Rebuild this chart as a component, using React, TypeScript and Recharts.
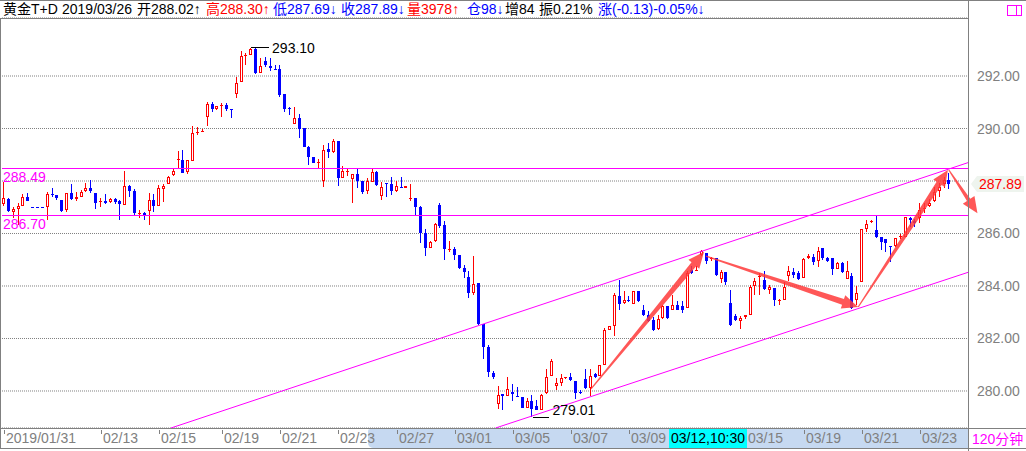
import React from 'react';
import { ComposedChart, Bar, XAxis, YAxis, CartesianGrid, ReferenceLine, ReferenceDot } from 'recharts';

// 120-minute bars, Au(T+D), oldest first
const openArr = [
  287.12, 287.32, 286.81, 286.92, 287.06, 287.38, 287.0, 287.0, 287.0, 287.02,
  287.52, 287.47, 287.28, 286.9, 287.55, 287.3, 287.4, 287.62, 287.72, 287.55,
  287.19, 287.25, 287.19, 287.32, 287.25, 287.09, 287.81, 287.62, 286.76, 286.77,
  286.87, 287.28, 287.06, 287.7, 287.87, 288.23, 288.82, 288.8, 288.33, 288.77,
  289.85, 289.9, 290.44, 290.95, 290.73, 290.88, 290.89, 290.73, 291.3, 291.78,
  292.77, 292.81, 293.03, 292.13, 292.56, 292.38, 292.26, 292.26, 291.31, 290.8,
  290.19, 290.41, 290.03, 289.28, 288.92, 288.7, 288.01, 289.22, 289.09, 289.52,
  288.13, 288.35, 288.07, 288.27, 288.0, 287.62, 287.97, 288.35, 287.44, 287.91,
  287.87, 287.62, 287.79, 287.75, 287.33, 287.34, 287.02, 286.01, 285.44, 285.72,
  287.09, 286.33, 285.38, 285.41, 285.19, 284.68, 284.34, 283.73, 284.11, 282.55,
  281.66, 280.69, 279.51, 279.9, 279.82, 279.97, 279.82, 279.79, 279.35, 279.63,
  279.42, 279.29, 279.92, 280.59, 280.19, 280.31, 280.48, 280.52, 280.37, 279.96,
  280.46, 280.12, 280.63, 280.59, 281.0, 282.34, 282.46, 283.63, 283.35, 283.48,
  283.32, 283.8, 283.07, 282.9, 282.71, 282.36, 282.78, 283.22, 283.1, 283.29,
  283.22, 283.16, 284.62, 284.6, 285.19, 285.25, 285.03, 285.06, 284.27, 284.55,
  283.35, 282.84, 282.65, 282.81, 282.9, 284.01, 284.34, 284.24, 283.86, 283.94,
  283.46, 283.48, 284.37, 284.53, 284.49, 284.3, 285.06, 285.12, 284.97, 285.46,
  285.06, 285.06, 284.66, 284.87, 284.28, 284.37, 283.48, 284.17, 286.17, 286.46,
  286.14, 285.86, 285.78, 285.53, 285.53, 285.86, 285.88, 286.58, 286.46, 286.58,
  286.94, 287.05, 287.25, 287.63, 287.89, 288.02,
];
const highArr = [
  287.97, 287.35, 287.02, 287.16, 287.51, 287.55, 287.0, 287.0, 287.0, 287.59,
  287.75, 287.47, 287.28, 287.55, 287.87, 287.59, 287.66, 287.91, 288.04, 287.55,
  287.37, 287.51, 287.37, 287.37, 287.28, 288.39, 287.85, 287.7, 286.9, 286.81,
  287.53, 287.49, 287.85, 287.87, 288.19, 288.51, 289.14, 289.18, 288.8, 290.1,
  290.06, 290.0, 291.02, 291.02, 290.87, 290.98, 290.98, 290.73, 291.97, 292.94,
  292.86, 293.07, 293.1, 292.67, 292.73, 292.67, 292.41, 292.41, 291.31, 290.83,
  290.83, 290.57, 290.03, 289.34, 288.92, 288.84, 289.37, 289.43, 289.6, 289.52,
  288.57, 288.49, 288.25, 288.46, 288.0, 288.13, 288.48, 288.38, 287.97, 287.91,
  288.16, 288.0, 288.14, 287.82, 287.89, 287.34, 287.06, 286.17, 285.73, 286.39,
  287.15, 286.48, 285.72, 285.5, 285.19, 284.81, 284.58, 285.16, 284.11, 282.55,
  281.76, 280.78, 280.19, 279.9, 280.55, 280.25, 280.17, 279.79, 279.72, 279.86,
  279.66, 279.9, 280.82, 281.22, 280.5, 280.63, 280.53, 280.7, 280.37, 280.03,
  280.82, 280.82, 280.7, 281.0, 282.4, 282.49, 283.73, 284.24, 283.8, 283.6,
  283.82, 283.82, 283.29, 283.03, 282.82, 282.9, 283.29, 283.22, 283.67, 283.41,
  283.41, 284.56, 284.75, 284.77, 285.38, 285.27, 285.12, 285.06, 284.62, 284.55,
  283.86, 282.94, 282.87, 282.91, 284.02, 284.32, 284.49, 284.56, 284.05, 283.94,
  283.51, 284.15, 284.77, 284.7, 284.58, 285.08, 285.21, 285.21, 285.48, 285.46,
  285.12, 285.08, 284.93, 284.91, 284.96, 284.49, 284.0, 286.17, 286.52, 286.52,
  286.71, 285.86, 285.78, 285.53, 285.82, 285.98, 286.64, 286.62, 286.54, 287.15,
  287.15, 287.3, 287.78, 287.94, 288.14, 288.3,
];
const lowArr = [
  287.03, 286.82, 286.6, 286.33, 287.06, 287.22, 287.0, 287.0, 287.0, 286.52,
  287.4, 287.28, 286.81, 286.83, 287.28, 287.25, 287.38, 287.59, 287.55, 286.92,
  287.02, 287.13, 287.15, 287.13, 286.52, 287.09, 287.4, 286.7, 286.58, 286.52,
  286.33, 286.83, 287.06, 287.21, 287.87, 288.2, 288.51, 288.29, 288.25, 288.77,
  289.75, 289.87, 290.1, 290.64, 290.71, 290.44, 290.67, 290.41, 291.17, 291.78,
  292.41, 292.81, 292.06, 292.1, 292.35, 292.18, 292.22, 291.21, 290.61, 290.51,
  290.19, 289.65, 289.29, 288.61, 288.67, 288.48, 287.78, 288.86, 289.05, 287.82,
  288.1, 288.2, 287.17, 287.72, 287.49, 287.49, 287.95, 287.81, 287.28, 287.4,
  287.47, 287.59, 287.72, 287.74, 287.25, 286.71, 285.65, 285.16, 285.44, 285.69,
  286.22, 285.0, 285.31, 285.0, 284.65, 284.32, 283.56, 283.67, 282.53, 281.2,
  280.52, 280.44, 279.3, 279.28, 279.8, 279.6, 279.78, 279.35, 279.35, 279.01,
  279.27, 279.29, 279.9, 280.56, 280.03, 280.18, 280.47, 280.37, 279.69, 279.87,
  280.08, 279.8, 280.5, 280.56, 281.0, 282.31, 282.11, 283.1, 283.32, 283.4,
  283.3, 283.38, 282.87, 282.61, 282.27, 282.31, 282.74, 282.74, 283.08, 283.08,
  282.97, 283.16, 284.47, 284.56, 285.15, 284.84, 284.94, 284.39, 284.13, 284.04,
  282.46, 282.65, 282.36, 282.74, 282.9, 283.67, 283.64, 283.86, 283.69, 283.22,
  283.29, 283.48, 284.2, 284.32, 284.24, 284.3, 285.03, 284.81, 284.71, 285.0,
  284.9, 284.43, 284.66, 284.49, 284.25, 283.13, 283.29, 284.15, 286.05, 286.4,
  285.82, 285.38, 285.31, 284.9, 285.48, 285.78, 285.86, 286.26, 286.26, 286.39,
  286.77, 287.0, 287.21, 287.4, 287.72, 287.69,
];
const closeArr = [
  287.34, 286.84, 286.92, 287.06, 287.38, 287.25, 287.0, 287.0, 287.0, 287.51,
  287.49, 287.37, 286.87, 287.53, 287.3, 287.4, 287.59, 287.72, 287.62, 287.15,
  287.24, 287.15, 287.3, 287.19, 287.13, 287.81, 287.62, 286.79, 286.78, 286.7,
  287.28, 287.06, 287.72, 287.82, 288.16, 288.38, 288.84, 288.29, 288.8, 289.81,
  289.88, 289.92, 290.95, 290.73, 290.85, 290.9, 290.73, 290.72, 291.75, 292.75,
  292.79, 293.01, 292.13, 292.37, 292.41, 292.31, 292.23, 291.27, 290.76, 290.76,
  290.41, 290.0, 289.3, 288.92, 288.7, 288.72, 289.18, 289.11, 289.52, 288.13,
  288.38, 288.37, 288.25, 288.0, 287.59, 288.0, 288.35, 287.85, 287.78, 287.89,
  287.63, 287.81, 287.76, 287.81, 287.35, 287.02, 286.01, 285.44, 285.67, 286.35,
  286.3, 285.41, 285.4, 285.19, 284.7, 284.55, 283.73, 284.07, 282.55, 281.66,
  280.71, 280.52, 279.86, 279.82, 280.09, 279.87, 279.79, 279.35, 279.63, 279.33,
  279.29, 279.86, 280.55, 281.16, 280.31, 280.5, 280.52, 280.4, 279.94, 279.93,
  280.12, 280.59, 280.54, 281.0, 282.33, 282.46, 283.67, 283.31, 283.48, 283.45,
  283.8, 283.42, 282.9, 282.65, 282.31, 282.74, 283.22, 282.78, 283.29, 283.1,
  283.1, 284.49, 284.49, 284.62, 285.34, 284.97, 285.06, 284.43, 284.55, 284.17,
  282.52, 282.69, 282.78, 282.9, 283.98, 284.2, 284.37, 283.9, 283.98, 283.48,
  283.48, 283.98, 284.58, 284.4, 284.27, 285.03, 285.15, 284.91, 285.35, 285.06,
  284.95, 284.66, 284.87, 284.55, 284.56, 283.16, 283.73, 286.17, 286.35, 286.48,
  285.88, 285.69, 285.63, 285.48, 285.82, 285.91, 286.62, 286.52, 286.39, 286.9,
  286.96, 287.18, 287.59, 287.78, 288.02, 287.89,
];

const tickIdx = [0, 20, 32, 45, 57, 69, 81, 93, 105, 117, 129, 153, 165, 177, 189];
const tickText = ['2019/01/31', '02/13', '02/15', '02/19', '02/21', '02/23', '02/27', '03/01',
  '03/05', '03/07', '03/09', '03/15', '03/19', '03/21', '03/23'];
const yTicks = [280, 282, 284, 286, 288, 290, 292];

// horizontal support / resistance levels
const levelLines = [288.49, 286.7];
// channel lines: [fromIndex, fromPrice, toIndex, toPrice]
const channelLines = [
  [34.45, 278.59, 198.85, 288.7],
  [101.4, 278.59, 198.85, 284.52],
];
// hand-drawn red arrows
const arrowLines = [
  [121.1, 280.08, 144.4, 285.3],
  [144.8, 285.14, 176.2, 283.2],
  [176.2, 283.2, 194.7, 288.42],
  [194.9, 288.42, 200.8, 286.77],
];

const volume = 3978;
const openInt = 98;
const oiChange = 84;

const data = openArr.map((o, i) => ({ i, o, h: highArr[i], l: lowArr[i], c: closeArr[i] }));
const last = data.length - 1;
const prevClose = closeArr[last - 1];
const change = closeArr[last] - prevClose;

let hiIdx = 0;
let loIdx = 0;
data.forEach((d, i) => {
  if (d.h > data[hiIdx].h) hiIdx = i;
  if (d.l < data[loIdx].l) loIdx = i;
});

const FONT = '"Liberation Sans", "Noto Sans CJK SC", Arial, sans-serif';
const RED = '#ff0000';
const BLUE = '#0000ff';
const GRAY = '#808080';
const MAGENTA = '#ff00ff';

function Candle(props: any) {
  const { x, y, width, height, payload } = props;
  if (x == null || y == null || !payload) return null;
  const { o, h, l, c } = payload;
  const top = Math.min(y, y + height);
  const bottom = Math.max(y, y + height);
  const span = h - l;
  const toY = (v: number) => (span > 0 ? top + ((h - v) / span) * (bottom - top) : top);
  const cx = Math.floor(x + width / 2);
  const yH = Math.round(top);
  const yL = Math.round(bottom);
  const yO = Math.round(toY(o));
  const yC = Math.round(toY(c));
  const up = c > o;
  const col = up ? RED : BLUE;
  const bt = Math.min(yO, yC);
  const bb = Math.max(yO, yC);
  return (
    <g shapeRendering="crispEdges">
      <rect x={cx} y={yH} width={1} height={Math.max(1, yL - yH)} fill={col} />
      {bb - bt <= 1 ? (
        <rect x={cx - 1} y={bt} width={3} height={1} fill={col} />
      ) : up ? (
        <rect x={cx - 0.5} y={bt + 0.5} width={2} height={bb - bt - 1} fill="#fff" stroke={col} strokeWidth={1} />
      ) : (
        <rect x={cx - 1} y={bt} width={3} height={bb - bt} fill={col} />
      )}
    </g>
  );
}

const XTick = (props: any) => {
  const { x, y, payload } = props;
  const k = tickIdx.indexOf(payload.value);
  if (k < 0) return null;
  const px = Math.round(x);
  return (
    <g>
      <rect x={px} y={y + 2} width={1} height={4} fill={GRAY} />
      <text x={px + 2} y={y + 15} fontSize={14} fontFamily={FONT} fill={GRAY}>
        {tickText[k]}
      </text>
    </g>
  );
};

const YTick = (props: any) => {
  const { x, y, payload } = props;
  // the last-price tag sits on top of the nearest level
  if (Math.abs(payload.value - closeArr[last]) < 0.6) return <g />;
  return (
    <text x={x + 9} y={y + 5} fontSize={14} fontFamily={FONT} fill={GRAY}>
      {Number(payload.value).toFixed(2)}
    </text>
  );
};

const arrowShape = (p: any) => {
  const { x1, y1, x2, y2 } = p;
  const dx = x2 - x1;
  const dy = y2 - y1;
  const len = Math.hypot(dx, dy) || 1;
  const ux = dx / len;
  const uy = dy / len;
  const nx = -uy;
  const ny = ux;
  const headLen = Math.min(16, len * 0.4);
  const headW = 7;
  const neck = len > 80 ? 3 : 2;
  const tail = 0.6;
  const bx = x2 - ux * headLen;
  const by = y2 - uy * headLen;
  const pts = [
    [x1 + nx * tail, y1 + ny * tail],
    [bx + nx * neck, by + ny * neck],
    [bx + nx * headW, by + ny * headW],
    [x2, y2],
    [bx - nx * headW, by - ny * headW],
    [bx - nx * neck, by - ny * neck],
    [x1 - nx * tail, y1 - ny * tail],
  ];
  return <polygon points={pts.map((q) => q.join(',')).join(' ')} fill="#ff3a3a" fillOpacity={0.85} />;
};

const levelLabel = (v: number) => (p: any) => {
  const vb = p.viewBox || {};
  return (
    <text x={vb.x + 1} y={vb.y + 14} fontSize={14} fontFamily={FONT} fill={MAGENTA}>
      {v.toFixed(2)}
    </text>
  );
};

const priceTag = (p: any) => {
  const vb = p.viewBox || {};
  const x0 = vb.x + vb.width + 3;
  const yc = vb.y;
  const pts = [
    [x0, yc],
    [x0 + 6, yc - 8],
    [x0 + 53, yc - 8],
    [x0 + 53, yc + 8],
    [x0 + 6, yc + 8],
  ];
  return (
    <g>
      <polygon points={pts.map((q) => q.join(',')).join(' ')} fill="#eef4ee" />
      <text x={x0 + 8} y={yc + 5} fontSize={14} fontFamily={FONT} fill={RED}>
        {closeArr[last].toFixed(2)}
      </text>
    </g>
  );
};

const highMark = (p: any) => {
  const { cx, cy } = p;
  if (cx == null) return <g />;
  return (
    <g>
      <rect x={Math.round(cx) - 5} y={Math.round(cy)} width={18} height={1} fill="#000" />
      <text x={cx + 16} y={cy + 6} fontSize={14} fontFamily={FONT} fill="#000">
        {data[hiIdx].h.toFixed(2)}
      </text>
    </g>
  );
};

const lowMark = (p: any) => {
  const { cx, cy } = p;
  if (cx == null) return <g />;
  return (
    <g>
      <rect x={Math.round(cx) + 1} y={Math.round(cy)} width={16} height={1} fill="#000" />
      <text x={cx + 20} y={cy - 2} fontSize={14} fontFamily={FONT} fill="#000">
        {data[loIdx].l.toFixed(2)}
      </text>
    </g>
  );
};

const headerParts = [
  { t: '黄金T+D', x: 3, c: '#000' },
  { t: '2019/03/26', x: 62, c: '#000' },
  { t: `开${openArr[last].toFixed(2)}↑`, x: 137, c: '#000' },
  { t: `高${highArr[last].toFixed(2)}↑`, x: 206, c: RED },
  { t: `低${lowArr[last].toFixed(2)}↓`, x: 273, c: BLUE },
  { t: `收${closeArr[last].toFixed(2)}↓`, x: 341, c: BLUE },
  { t: `量${volume}↑`, x: 407, c: RED },
  { t: `仓${openInt}↓`, x: 467, c: BLUE },
  { t: `增${oiChange}`, x: 505, c: '#000' },
  { t: `振${(((highArr[last] - lowArr[last]) / prevClose) * 100).toFixed(2)}%`, x: 539, c: '#000' },
  { t: `涨(${change.toFixed(2)})${((change / prevClose) * 100).toFixed(2)}%↓`, x: 598, c: BLUE },
];

const line = (l: number, t: number, w: number, h: number, bg = GRAY) => (
  <div style={{ position: 'absolute', left: l, top: t, width: w, height: h, background: bg }} />
);

export default function App() {
  return (
    <div style={{ position: 'absolute', left: 0, top: 0, width: 1026, height: 451, background: '#fff', overflow: 'hidden', fontFamily: FONT }}>
      {/* selected range in the time strip */}
      <div style={{ position: 'absolute', left: 368, top: 429, width: 600, height: 19, background: '#c6d9f1', borderBottomLeftRadius: 5, borderTopLeftRadius: 2 }} />

      <div style={{ position: 'absolute', left: 0, top: 0 }}>
        <ComposedChart width={1026} height={451} data={data} margin={{ top: 18, right: 0, bottom: 0, left: 2 }}>
          <CartesianGrid vertical={false} stroke={GRAY} strokeDasharray="1 1" />
          <XAxis
            dataKey="i"
            type="number"
            domain={[-0.41, 198.85]}
            allowDataOverflow
            ticks={tickIdx}
            interval={0}
            height={23}
            tickSize={0}
            tickMargin={0}
            axisLine={false}
            tickLine={false}
            tick={<XTick />}
          />
          <YAxis
            orientation="right"
            domain={[278.59, 294.21]}
            allowDataOverflow
            ticks={yTicks}
            width={58}
            tickSize={0}
            tickMargin={0}
            axisLine={false}
            tickLine={false}
            tick={<YTick />}
          />
          {levelLines.map((v) => (
            <ReferenceLine key={v} y={v} stroke={MAGENTA} strokeWidth={1} shapeRendering="crispEdges" label={levelLabel(v)} />
          ))}
          {channelLines.map((s, k) => (
            <ReferenceLine
              key={`ch${k}`}
              segment={[{ x: s[0], y: s[1] }, { x: s[2], y: s[3] }]}
              stroke={MAGENTA}
              strokeWidth={1}
              ifOverflow="hidden"
            />
          ))}
          <Bar
            dataKey={(d: any) => [d.l, d.h > d.l ? d.h : d.l + 0.01]}
            barSize={4}
            shape={<Candle />}
            isAnimationActive={false}
          />
          {arrowLines.map((s, k) => (
            <ReferenceLine
              key={`ar${k}`}
              segment={[{ x: s[0], y: s[1] }, { x: s[2], y: s[3] }]}
              ifOverflow="visible"
              shape={arrowShape}
            />
          ))}
          <ReferenceDot x={hiIdx} y={data[hiIdx].h} ifOverflow="visible" shape={highMark} />
          <ReferenceDot x={loIdx} y={data[loIdx].l} ifOverflow="visible" shape={lowMark} />
          <ReferenceLine y={closeArr[last]} stroke="none" ifOverflow="visible" label={priceTag} />
        </ComposedChart>
      </div>

      {/* frame */}
      {line(0, 0, 1026, 1)}
      {line(0, 18, 968, 1)}
      {line(0, 18, 1, 430)}
      {line(968, 0, 1, 451)}
      {line(0, 428, 1026, 1)}
      {line(0, 448, 1026, 1)}

      {/* header */}
      {headerParts.map((p) => (
        <div key={p.t} style={{ position: 'absolute', left: p.x, top: 1, fontSize: 14, lineHeight: '16px', color: p.c, whiteSpace: 'nowrap' }}>
          {p.t}
        </div>
      ))}

      {/* window icon */}
      <div style={{ position: 'absolute', left: 1007, top: 5, width: 15, height: 11, border: `1px solid ${MAGENTA}`, boxSizing: 'border-box' }} />
      {line(1016, 5, 1, 11, MAGENTA)}

      {/* crosshair time box */}
      <div style={{ position: 'absolute', left: 669, top: 429, width: 78, height: 19, background: '#00ffff', fontSize: 14, lineHeight: '19px', color: '#000', paddingLeft: 2, boxSizing: 'border-box', whiteSpace: 'nowrap' }}>
        03/12,10:30
      </div>

      {/* period */}
      <div style={{ position: 'absolute', left: 972, top: 430, fontSize: 14, lineHeight: '18px', color: MAGENTA, whiteSpace: 'nowrap' }}>
        120分钟
      </div>
    </div>
  );
}
